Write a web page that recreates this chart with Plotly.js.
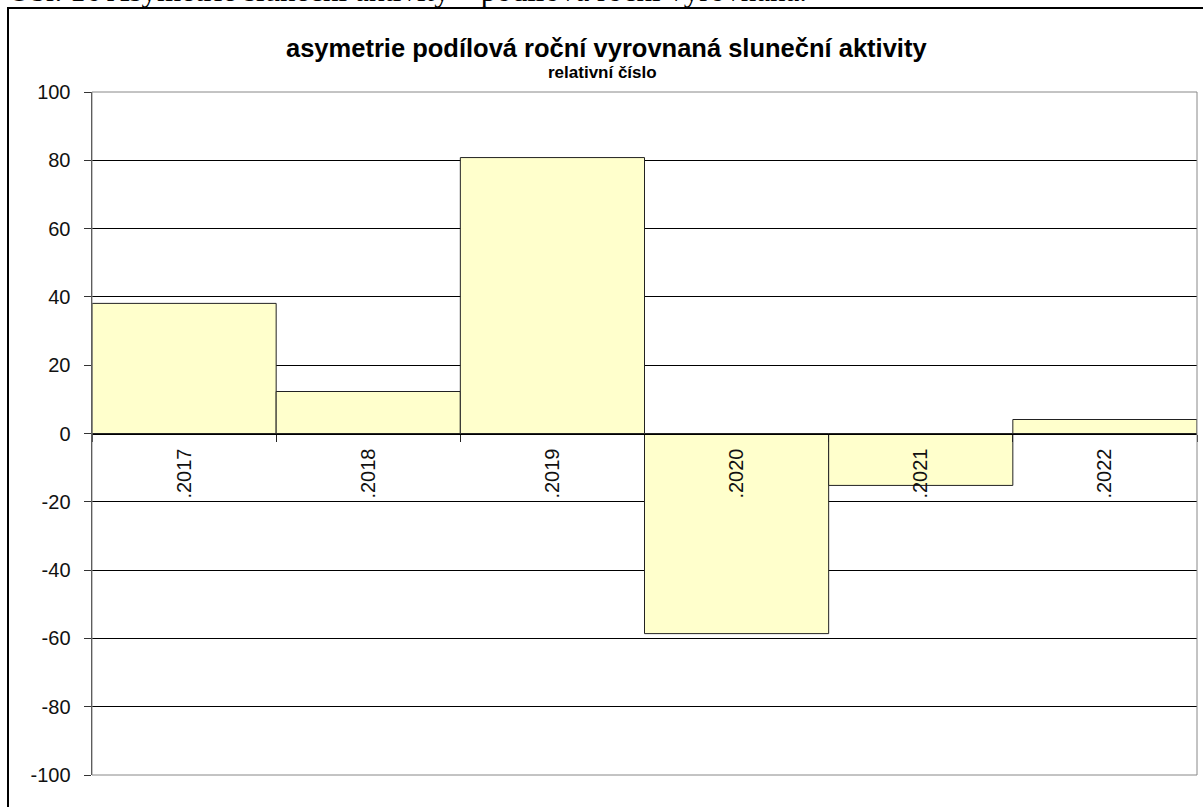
<!DOCTYPE html>
<html>
<head>
<meta charset="utf-8">
<script src="https://cdn.plot.ly/plotly-3.0.1.min.js"></script>
<style>html,body{margin:0;padding:0;background:#fff;}#chart{width:1203px;height:807px;}</style>
</head>
<body>
<div id="chart"></div>
<script>
const years = ["2017", "2018", "2019", "2020", "2021", "2022"];
const yearLabels = [".2017", ".2018", ".2019", ".2020", ".2021", ".2022"];
const asymmetry = [38.1, 12.3, 80.8, -58.6, -15.2, 4.1];
const yTicks = [-100, -80, -60, -40, -20, 0, 20, 40, 60, 80, 100];
const yTickText = ["-100", "-80", "-60", "-40", "-20", "0", "20", "40", "60", "80", "100"];
const chartTitle = "asymetrie podílová roční vyrovnaná sluneční aktivity";
const chartSubtitle = "relativní číslo";
const caption = "Obr. 16 Asymetrie sluneční aktivity – podílová roční vyrovnaná.";

const W = 1203, H = 807;
const L = 92, R = 6, T = 92, B = 32;
const pw = W - L - R, ph = H - T - B;
const px = x => (x - L) / pw;
const py = y => (H - B - y) / ph;

const trace = {
  type: "bar",
  x: years,
  y: asymmetry,
  marker: {color: "#FFFFCC", line: {color: "#222", width: 1}},
  hoverinfo: "x+y"
};

const layout = {
  width: W, height: H,
  margin: {l: L, r: R, t: T, b: B, pad: 0},
  paper_bgcolor: "#fff",
  plot_bgcolor: "#fff",
  showlegend: false,
  bargap: 0,
  font: {family: "Liberation Sans, Arial, sans-serif", color: "#000", size: 16},
  xaxis: {
    type: "category",
    range: [-0.5, 5.5],
    anchor: "free",
    position: 0.5,
    tickmode: "array",
    tickvals: years,
    ticktext: yearLabels,
    tickangle: -90,
    tickson: "boundaries",
    ticks: "outside",
    ticklen: 7,
    tickcolor: "#222",
    ticklabelstandoff: 6,
    showline: true,
    linecolor: "#000",
    linewidth: 1,
    showgrid: false,
    zeroline: false,
    tickfont: {size: 20, color: "#111"},
    fixedrange: true
  },
  yaxis: {
    range: [-100, 100],
    tickmode: "array",
    tickvals: yTicks,
    ticktext: yTickText,
    ticks: "outside",
    ticklen: 7,
    tickcolor: "#333",
    ticklabelstandoff: 9,
    showline: true,
    linecolor: "#333",
    linewidth: 1.5,
    showgrid: true,
    gridcolor: "#000",
    gridwidth: 1,
    zeroline: true,
    zerolinecolor: "#000",
    zerolinewidth: 1,
    tickfont: {size: 20, color: "#111"},
    fixedrange: true
  },
  shapes: [
    {type: "rect", xref: "paper", yref: "paper", x0: 0, x1: 1, y0: 0, y1: 1,
     line: {color: "#888", width: 1}, layer: "above"},
    {type: "rect", xref: "paper", yref: "paper", x0: px(8), x1: px(1230), y0: py(850), y1: py(8),
     line: {color: "#000", width: 2}, layer: "below"}
  ],
  annotations: [
    {text: "<b>" + chartTitle + "</b>", xref: "paper", yref: "paper",
     x: px(606), y: py(48), xanchor: "center", yanchor: "middle", showarrow: false,
     font: {size: 25.5, color: "#000", family: "Liberation Sans, Arial, sans-serif"}},
    {text: "<b>" + chartSubtitle + "</b>", xref: "paper", yref: "paper",
     x: px(602), y: py(72), xanchor: "center", yanchor: "middle", showarrow: false,
     font: {size: 17, color: "#000", family: "Liberation Sans, Arial, sans-serif"}},
    {text: caption, xref: "paper", yref: "paper",
     x: px(6), y: py(-9), xanchor: "left", yanchor: "middle", showarrow: false,
     font: {size: 31, color: "#000", family: "Liberation Serif, Times New Roman, serif"}}
  ]
};

Plotly.newPlot("chart", [trace], layout, {displayModeBar: false, staticPlot: true});
</script>
</body>
</html>
